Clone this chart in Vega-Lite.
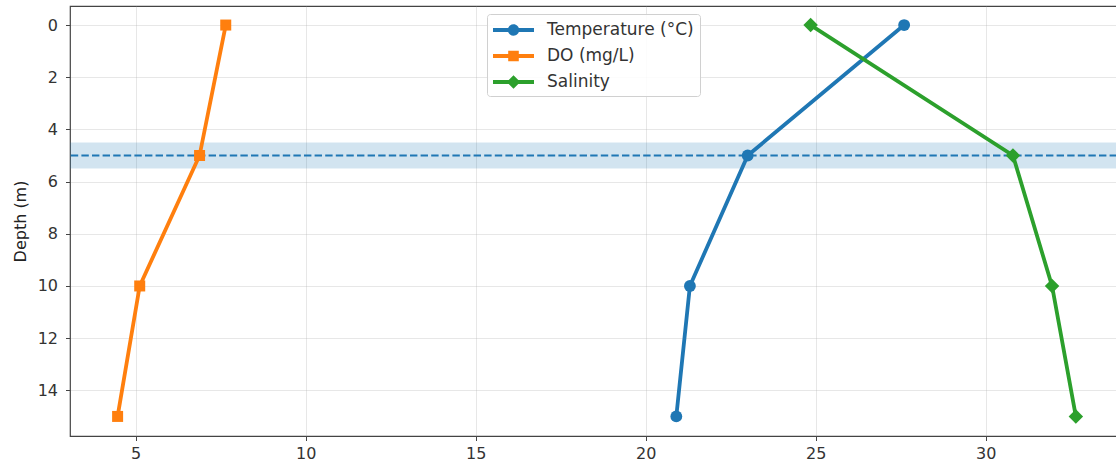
{
  "$schema": "https://vega.github.io/schema/vega-lite/v6.json",
  "width": 1047,
  "height": 430,
  "autosize": {"type": "none"},
  "padding": {"left": 70, "top": 6, "right": 0, "bottom": 34},
  "background": "white",
  "config": {
    "view": {"stroke": "#444", "strokeWidth": 1.2},
    "font": "DejaVu Sans",
    "axis": {
      "labelFont": "DejaVu Sans",
      "labelFontSize": 16,
      "labelColor": "#333",
      "titleFont": "DejaVu Sans",
      "titleFontSize": 16,
      "titleFontWeight": "normal",
      "titleColor": "#222",
      "domain": false,
      "tickColor": "#444",
      "tickSize": 4.5,
      "tickWidth": 1,
      "gridColor": "#b0b0b0",
      "gridOpacity": 0.3,
      "gridWidth": 1
    },
    "legend": {
      "labelFont": "DejaVu Sans",
      "labelFontSize": 17,
      "labelColor": "#333"
    }
  },
  "data": {
    "values": [
      {"series": "Temperature (°C)", "depth": 0, "value": 27.6},
      {"series": "Temperature (°C)", "depth": 5, "value": 23.0},
      {"series": "Temperature (°C)", "depth": 10, "value": 21.3},
      {"series": "Temperature (°C)", "depth": 15, "value": 20.9},
      {"series": "DO (mg/L)", "depth": 0, "value": 7.65},
      {"series": "DO (mg/L)", "depth": 5, "value": 6.88},
      {"series": "DO (mg/L)", "depth": 10, "value": 5.12},
      {"series": "DO (mg/L)", "depth": 15, "value": 4.47},
      {"series": "Salinity", "depth": 0, "value": 24.85},
      {"series": "Salinity", "depth": 5, "value": 30.8},
      {"series": "Salinity", "depth": 10, "value": 31.95},
      {"series": "Salinity", "depth": 15, "value": 32.65}
    ]
  },
  "encoding": {
    "y": {
      "field": "depth",
      "type": "quantitative",
      "scale": {"domain": [-0.73, 15.75], "reverse": true, "nice": false, "zero": false},
      "axis": {"title": "Depth (m)", "values": [0, 2, 4, 6, 8, 10, 12, 14], "titlePadding": 9, "labelPadding": 8}
    },
    "x": {
      "field": "value",
      "type": "quantitative",
      "scale": {"domain": [3.07, 33.86], "nice": false, "zero": false},
      "axis": {"title": null, "values": [5, 10, 15, 20, 25, 30], "labelPadding": 5}
    }
  },
  "layer": [
    {
      "data": {"values": [{"d0": 4.5, "d1": 5.5}]},
      "mark": {"type": "rect", "color": "#1f77b4", "opacity": 0.2},
      "encoding": {
        "x": null,
        "y": {"field": "d0", "type": "quantitative"},
        "y2": {"field": "d1"}
      }
    },
    {
      "data": {"values": [{"d": 5}]},
      "mark": {"type": "rule", "color": "#1f77b4", "strokeWidth": 2, "strokeDash": [7.4, 3.2]},
      "encoding": {
        "x": null,
        "y": {"field": "d", "type": "quantitative"}
      }
    },
    {
      "mark": {"type": "line", "strokeWidth": 3.8},
      "encoding": {
        "color": {
          "field": "series",
          "type": "nominal",
          "scale": {
            "domain": ["Temperature (°C)", "DO (mg/L)", "Salinity"],
            "range": ["#1f77b4", "#ff7f0e", "#2ca02c"]
          },
          "legend": null
        },
        "detail": {"field": "series"},
        "order": {"field": "depth"}
      }
    },
    {
      "transform": [{"filter": "datum.series === 'Temperature (°C)'"}],
      "mark": {"type": "point", "shape": "circle", "filled": true, "opacity": 1, "size": 140, "color": "#1f77b4"}
    },
    {
      "transform": [{"filter": "datum.series === 'DO (mg/L)'"}],
      "mark": {"type": "point", "shape": "square", "filled": true, "opacity": 1, "size": 121, "color": "#ff7f0e"}
    },
    {
      "transform": [{"filter": "datum.series === 'Salinity'"}],
      "mark": {"type": "point", "shape": "diamond", "filled": true, "opacity": 1, "size": 210, "color": "#2ca02c"}
    },
    {
      "transform": [{"filter": "false"}],
      "mark": {"type": "point", "filled": true, "opacity": 1},
      "encoding": {
        "color": {
          "field": "series",
          "type": "nominal",
          "scale": {
            "domain": ["Temperature (°C)", "DO (mg/L)", "Salinity"],
            "range": ["#1f77b4", "#ff7f0e", "#2ca02c"]
          },
          "legend": {"title": null}
        },
        "shape": {
          "field": "series",
          "type": "nominal",
          "scale": {
            "domain": ["Temperature (°C)", "DO (mg/L)", "Salinity"],
            "range": [
              "M-1,-0.2H3.1V0.2H-1Z M0.48,0A0.57,0.57 0 1 1 1.62,0A0.57,0.57 0 1 1 0.48,0Z",
              "M-1,-0.2H3.1V0.2H-1Z M0.52,-0.53H1.58V0.53H0.52Z",
              "M-1,-0.2H3.1V0.2H-1Z M1.05,-0.68L1.73,0L1.05,0.68L0.37,0Z"
            ]
          },
          "legend": {
            "title": null,
            "orient": "none",
            "legendX": 417,
            "legendY": 8,
            "symbolSize": 400,
            "symbolStrokeWidth": 0,
            "symbolOpacity": 1,
            "fillColor": "rgba(255,255,255,0.85)",
            "strokeColor": "#d0d0d0",
            "cornerRadius": 3,
            "padding": 6,
            "rowPadding": 8,
            "labelOffset": 34
          }
        }
      }
    }
  ],
  "resolve": {"scale": {"shape": "independent", "color": "independent"}}
}
